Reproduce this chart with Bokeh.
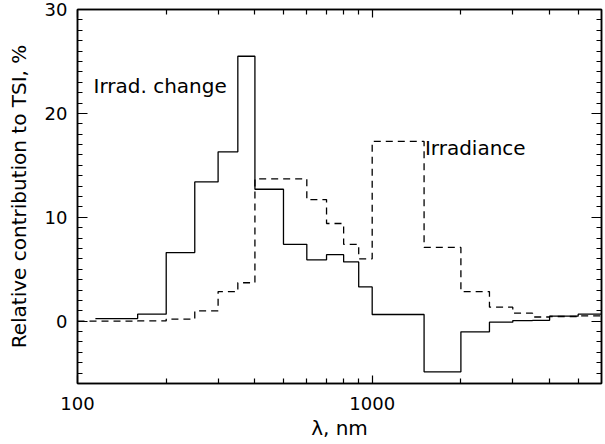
from bokeh.plotting import figure
from bokeh.models import (LogAxis, LinearAxis, Range1d, SingleIntervalTicker,
                          FixedTicker, BasicTickFormatter, Label, LogScale,
                          CustomLabelingPolicy)
from bokeh.embed import file_html
from bokeh.resources import INLINE

# ---- data ----
bin_edges = [100, 160, 200, 250, 300, 350, 400, 500, 600, 700, 800, 900,
             1000, 1500, 2000, 2500, 3000, 3500, 4000, 5000, 6000]
change_first_edge = 115
irrad_change = [0.25, 0.67, 6.6, 13.4, 16.3, 25.5, 12.7, 7.4, 5.9, 6.4, 5.7,
                3.3, 0.64, -4.88, -1.03, -0.1, 0.06, 0.08, 0.48, 0.67]
irradiance = [0.0, 0.02, 0.2, 1.0, 2.85, 3.7, 13.7, 13.7, 11.7, 9.4, 7.4,
              6.0, 17.3, 7.1, 2.85, 1.35, 0.77, 0.4, 0.45, 0.5]
x_major_ticks = [100, 1000]
x_minor_ticks = [200, 300, 400, 500, 600, 700, 800, 900, 2000, 3000, 4000, 5000]
x_label = "λ, nm"
y_label = "Relative contribution to TSI, %"
label_change = "Irrad. change"
label_irr = "Irradiance"

FONT = "DejaVu Sans"

p = figure(width=605, height=444, x_axis_type=None, y_axis_type=None,
           x_range=Range1d(100, 6000), y_range=Range1d(-6, 30),
           output_backend="svg", toolbar_location=None,
           min_border_left=77, min_border_right=3, min_border_top=9,
           min_border_bottom=61)
p.x_scale = LogScale()
p.background_fill_color = "white"
p.border_fill_color = "white"
p.outline_line_color = "black"
p.outline_line_width = 1.5
p.xgrid.visible = False
p.ygrid.visible = False

hide_all = CustomLabelingPolicy(code="""
    for (const i of indices)
        indices.unset(i)
    return indices
""")

def style_axis(ax, major_in, minor_in, labels=True):
    ax.axis_line_color = "black"
    ax.axis_line_width = 1.5
    ax.major_tick_in = major_in
    ax.major_tick_out = 0
    ax.minor_tick_in = minor_in
    ax.minor_tick_out = 0
    ax.major_tick_line_color = "black"
    ax.minor_tick_line_color = "black"
    ax.major_tick_line_width = 1.2
    ax.minor_tick_line_width = 1.2
    ax.major_label_text_font = FONT
    ax.major_label_text_color = "black"
    if labels:
        ax.major_label_text_font_size = "18px"
    else:
        ax.major_label_text_font_size = "1px"
        ax.major_label_standoff = 0
        ax.major_label_policy = hide_all
    ax.axis_label_text_font = FONT
    ax.axis_label_text_font_size = "20px"
    ax.axis_label_text_font_style = "normal"
    ax.axis_label_text_color = "black"

def x_ticker():
    return FixedTicker(ticks=x_major_ticks, minor_ticks=x_minor_ticks)

def y_ticker():
    return SingleIntervalTicker(interval=10, num_minor_ticks=10)

xfmt = BasicTickFormatter(use_scientific=False)

xb = LogAxis(ticker=x_ticker(), formatter=xfmt, axis_label=x_label)
style_axis(xb, 8, 5)
xb.major_label_standoff = 13
xb.axis_label_standoff = 3
p.add_layout(xb, "below")

xt = LogAxis(ticker=x_ticker(), formatter=xfmt)
style_axis(xt, 8, 5, labels=False)
p.add_layout(xt, "above")

yl = LinearAxis(ticker=y_ticker(), axis_label=y_label)
style_axis(yl, 10, 5)
yl.major_label_standoff = 10
yl.axis_label_standoff = 11
p.add_layout(yl, "left")

yr = LinearAxis(ticker=y_ticker())
style_axis(yr, 10, 5, labels=False)
p.add_layout(yr, "right")

solid_edges = [change_first_edge] + bin_edges[1:]
p.step(x=solid_edges, y=irrad_change + [irrad_change[-1]], mode="after",
       line_color="black", line_width=1.3)
p.step(x=bin_edges, y=irradiance + [irradiance[-1]], mode="after",
       line_color="black", line_width=1.3, line_dash="7 5")

p.add_layout(Label(x=113.3, y=22.6, text=label_change, text_align="left",
                   text_baseline="alphabetic", text_font=FONT,
                   text_font_size="20px", text_color="black"))
p.add_layout(Label(x=1510, y=16.7, text=label_irr, text_align="left",
                   text_baseline="alphabetic", text_font=FONT,
                   text_font_size="20px", text_color="black"))

open("out.html", "w").write(file_html(p, INLINE))
